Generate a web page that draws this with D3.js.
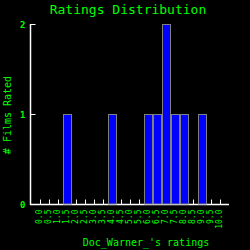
<!DOCTYPE html>
<html><head><meta charset="utf-8">
<script src="https://cdn.jsdelivr.net/npm/d3@7"></script>
<style>html,body{margin:0;padding:0;background:#000;}svg{display:block;}</style>
</head><body>
<svg id="c" width="250" height="250"></svg>
<script>
const categories = ["0.0","0.5","1.0","1.5","2.0","2.5","3.0","3.5","4.0","4.5","5.0","5.5","6.0","6.5","7.0","7.5","8.0","8.5","9.0","9.5","10.0"];
const counts =     [0,0,0,1,0,0,0,0,1,0,0,0,1,1,2,1,1,0,1,0,0];
const yTicks = [0,1,2];
const title = "Ratings Distribution";
const xLabel = "Doc_Warner_'s ratings";
const yLabel = "# Films Rated";

const green = "#00ff00";
const font = "'DejaVu Sans Mono', monospace";
const svg = d3.select("#c");
svg.append("rect").attr("width",250).attr("height",250).attr("fill","#000");

const x = d3.scalePoint().domain(categories).range([30.5,228.5]).padding(1);
const y = d3.scaleLinear().domain([0,2]).range([204.5,24.5]);

// x axis
const xa = svg.append("g").attr("transform","translate(0,204.5)");
xa.append("line").attr("x1",30).attr("x2",229).attr("stroke","#fff").attr("stroke-width",1.5);
xa.selectAll("line.t").data(categories).enter().append("line").attr("class","t")
  .attr("x1",d=>Math.round(x(d))+0.5).attr("x2",d=>Math.round(x(d))+0.5).attr("y1",0).attr("y2",-5)
  .attr("stroke","#fff").attr("stroke-width",1);
xa.selectAll("text").data(categories).enter().append("text")
  .attr("transform",d=>`translate(${x(d)+2.5},5) rotate(-90)`)
  .attr("text-anchor","end").attr("fill",green).attr("font-family",font).attr("font-size",8)
  .text(d=>d);

// y axis
const ya = svg.append("g");
ya.append("line").attr("x1",30.5).attr("x2",30.5).attr("y1",24).attr("y2",205).attr("stroke","#fff").attr("stroke-width",1.5);
ya.selectAll("line.t").data(yTicks).enter().append("line").attr("class","t")
  .attr("x1",30.5).attr("x2",35.5).attr("y1",d=>y(d)).attr("y2",d=>y(d))
  .attr("stroke","#fff").attr("stroke-width",1);
ya.selectAll("text").data(yTicks).enter().append("text")
  .attr("x",25.5).attr("y",d=>y(d)+3).attr("text-anchor","end")
  .attr("fill",green).attr("font-family",font).attr("font-size",9).attr("font-weight","bold")
  .text(d=>d);

// bars
svg.selectAll("rect.bar").data(categories.map((c,i)=>({c,v:counts[i]})).filter(d=>d.v>0))
  .enter().append("rect").attr("class","bar")
  .attr("x",d=>Math.round(x(d.c))-3.5).attr("width",8)
  .attr("y",d=>y(d.v)).attr("height",d=>y(0)-y(d.v)-0.5)
  .attr("fill","#0000ff").attr("stroke","#808080").attr("stroke-width",1);

// titles
svg.append("text").attr("x",128).attr("y",14).attr("text-anchor","middle")
  .attr("fill",green).attr("font-family",font).attr("font-size",13).text(title);
svg.append("text").attr("x",146).attr("y",246).attr("text-anchor","middle")
  .attr("fill",green).attr("font-family",font).attr("font-size",10).text(xLabel);
svg.append("text").attr("transform","translate(11,115) rotate(-90)").attr("text-anchor","middle")
  .attr("fill",green).attr("font-family",font).attr("font-size",10).text(yLabel);
</script>
</body></html>
